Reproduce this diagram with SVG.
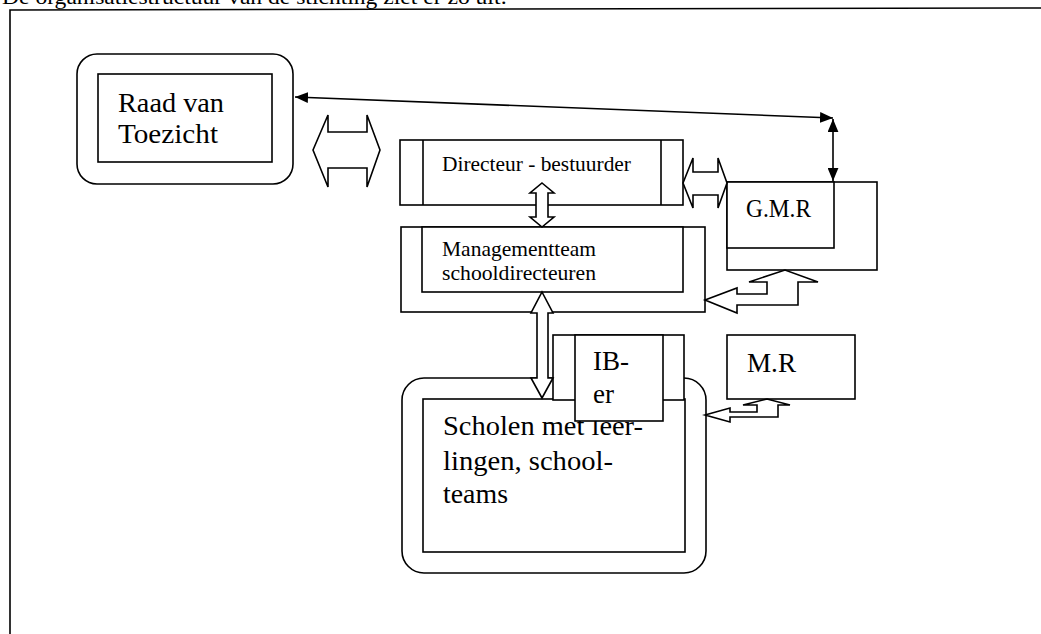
<svg xmlns="http://www.w3.org/2000/svg" width="1041" height="634" viewBox="0 0 1041 634">
  <style>
    .box { fill: #fff; stroke: #000; stroke-width: 1.6; }
    .line { fill: none; stroke: #000; stroke-width: 1.6; }
    .hollow { fill: #fff; stroke: #000; stroke-width: 1.6; stroke-linejoin: miter; }
    .t { font-family: "Liberation Serif", "Times New Roman", serif; fill: #000; }
  </style>
  <defs>
    <marker id="head" viewBox="0 0 12 10" refX="12" refY="5" markerWidth="13" markerHeight="11" markerUnits="userSpaceOnUse" orient="auto-start-reverse">
      <path d="M0,0 L12,5 L0,10 Z" fill="#000"/>
    </marker>
  </defs>
  <rect width="1041" height="634" fill="#fff"/>

  <!-- heading line, cropped at the top edge -->
  <text class="t" x="2" y="4" font-size="20" textLength="505" lengthAdjust="spacingAndGlyphs">De organisatiestructuur van de stichting ziet er zo uit:</text>

  <!-- page frame -->
  <path class="line" d="M10,634 L10,10 L1041,8"/>

  <g id="raad">
    <rect class="box" x="77" y="54" width="216" height="130" rx="20"/>
    <rect class="box" x="98" y="74" width="174" height="88"/>
    <text class="t" x="118" y="112" font-size="28" textLength="106" lengthAdjust="spacingAndGlyphs">Raad van</text>
    <text class="t" x="118" y="143" font-size="28" textLength="100" lengthAdjust="spacingAndGlyphs">Toezicht</text>
  </g>

  <g id="directeur">
    <rect class="box" x="400" y="140" width="283" height="65"/>
    <line class="line" x1="423" y1="140" x2="423" y2="205"/>
    <line class="line" x1="661" y1="140" x2="661" y2="205"/>
    <text class="t" x="442" y="171" font-size="21" textLength="189" lengthAdjust="spacingAndGlyphs">Directeur - bestuurder</text>
  </g>

  <g id="managementteam">
    <rect class="box" x="401" y="227" width="304" height="85"/>
    <rect class="box" x="422" y="227" width="261" height="65"/>
    <text class="t" x="442" y="256" font-size="21" textLength="154" lengthAdjust="spacingAndGlyphs">Managementteam</text>
    <text class="t" x="442" y="280" font-size="21" textLength="154" lengthAdjust="spacingAndGlyphs">schooldirecteuren</text>
  </g>

  <g id="gmr">
    <rect class="box" x="727" y="182" width="150" height="88"/>
    <rect class="box" x="727" y="182" width="107" height="66"/>
    <text class="t" x="746" y="217" font-size="25" textLength="65" lengthAdjust="spacingAndGlyphs">G.M.R</text>
  </g>

  <g id="mr">
    <rect class="box" x="727" y="335" width="128" height="64"/>
    <text class="t" x="747" y="372" font-size="27" textLength="49" lengthAdjust="spacingAndGlyphs">M.R</text>
  </g>

  <g id="scholen">
    <rect class="box" x="402" y="378" width="304" height="195" rx="22"/>
    <rect class="box" x="423" y="399" width="262" height="153"/>
    <text class="t" x="443" y="435" font-size="28" textLength="200" lengthAdjust="spacingAndGlyphs">Scholen met leer-</text>
    <text class="t" x="443" y="470" font-size="28" textLength="170" lengthAdjust="spacingAndGlyphs">lingen, school-</text>
    <text class="t" x="443" y="503" font-size="28" textLength="65" lengthAdjust="spacingAndGlyphs">teams</text>
  </g>

  <g id="ib-er">
    <rect class="box" x="553" y="335" width="131" height="65"/>
    <rect class="box" x="575" y="335" width="88" height="86"/>
    <text class="t" x="593" y="370" font-size="27">IB-</text>
    <text class="t" x="593" y="403" font-size="27">er</text>
  </g>

  <g id="connectors">
    <!-- Raad van Toezicht <-> Directeur -->
    <path class="hollow" d="M313,150 L328,115 L328,132 L367,132 L367,115 L380,150 L367,187 L367,168 L328,168 L328,187 Z"/>
    <!-- Directeur <-> Managementteam -->
    <path class="hollow" d="M542,183 L554,193 L548,193 L548,217 L554,217 L542,227 L530,217 L536,217 L536,193 L530,193 Z"/>
    <!-- Managementteam <-> Scholen -->
    <path class="hollow" d="M542,292 L553,313 L548,313 L548,378 L553,378 L542,398 L531,378 L537,378 L537,313 L531,313 Z"/>
    <!-- Directeur <-> G.M.R -->
    <path class="hollow" d="M683,183 L693,158 L693,172 L718,172 L718,158 L727,183 L718,208 L718,195 L693,195 L693,208 Z"/>
    <!-- G.M.R <-> Managementteam (bent) -->
    <path class="hollow" d="M705,300 L737,288 L737,294 L767,294 L767,282 L749,282 L785,270 L818,282 L798,282 L798,305 L737,305 L737,313 Z"/>
    <!-- M.R <-> Scholen (bent) -->
    <path class="hollow" d="M705,415 L730,408 L730,412 L757,412 L757,405 L743,405 L767,399 L790,405 L778,405 L778,417 L730,417 L730,422 Z"/>
    <!-- Raad van Toezicht <-> G.M.R -->
    <line class="line" x1="295" y1="97" x2="833" y2="118" marker-start="url(#head)" marker-end="url(#head)"/>
    <line class="line" x1="833" y1="119" x2="833" y2="181" marker-start="url(#head)" marker-end="url(#head)"/>
  </g>
</svg>
